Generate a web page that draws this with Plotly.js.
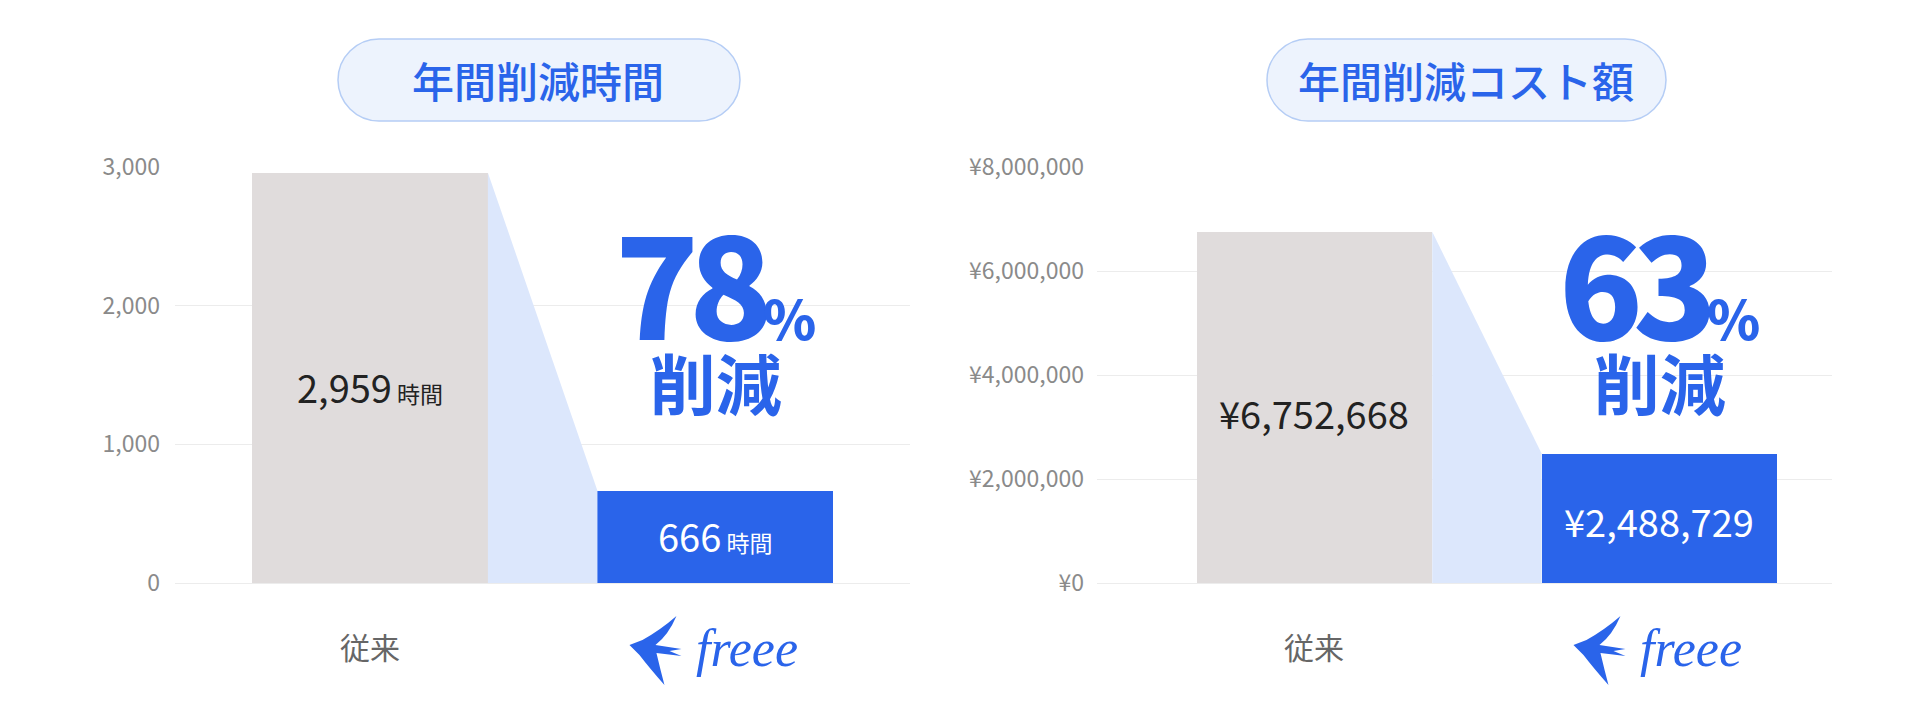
<!DOCTYPE html>
<html>
<head>
<meta charset="utf-8">
<script src="https://cdn.plot.ly/plotly-3.0.1.min.js"></script>
<style>
html,body{margin:0;padding:0;background:#ffffff;}
#chart{width:1916px;height:712px;}
</style>
</head>
<body>
<div id="chart"></div>
<script>
// ---------- data ----------
const categories = ['従来', 'freee'];
const hours = [2959, 666];
const costs = [6752668, 2488729];
const hourTicks = [0, 1000, 2000, 3000];
const costTicks = [0, 2000000, 4000000, 6000000, 8000000];
const reductionPct = [78, 63];
const panelTitles = ['年間削減時間', '年間削減コスト額'];
const hourUnit = '時間';
const yenPrefix = '¥';
const reductionWord = '削減';

// ---------- style ----------
const W = 1916, H = 712;
const BLUE = '#2a64ea';
const GREY_BAR = '#e0dcdc';
const FUNNEL = '#dce7fc';
const FONT = '"Noto Sans CJK JP", "Noto Sans", sans-serif';
const BW = 0.683;

const px = x => x / W;
const py = y => 1 - y / H;

function fmt(n) { return n.toLocaleString('en-US'); }

function pillPath(x0, x1, y0, y1) {
  const r = (y1 - y0) / 2, k = 0.5523 * r, ym = (y0 + y1) / 2;
  const P = (x, y) => px(x).toFixed(5) + ',' + py(y).toFixed(5);
  return 'M' + P(x0 + r, y0) + ' L' + P(x1 - r, y0) +
    ' C' + P(x1 - r + k, y0) + ' ' + P(x1, ym - k) + ' ' + P(x1, ym) +
    ' C' + P(x1, ym + k) + ' ' + P(x1 - r + k, y1) + ' ' + P(x1 - r, y1) +
    ' L' + P(x0 + r, y1) +
    ' C' + P(x0 + r - k, y1) + ' ' + P(x0, ym + k) + ' ' + P(x0, ym) +
    ' C' + P(x0, ym - k) + ' ' + P(x0 + r - k, y0) + ' ' + P(x0 + r, y0) + ' Z';
}

// swallow icon, pixel offsets relative to anchor (screen y down, converted to up)
const birdPts = [
  ['M', -86, -5], ['L', -73, -10], ['Q', -55, -20, -39, -34], ['Q', -47, -15, -60, -5],
  ['L', -34, -1], ['L', -46, 1], ['L', -34, 6], ['L', -59, 3],
  ['Q', -55, 20, -51, 35], ['Q', -66, 18, -76, 5], ['Z']
];
function birdPath() {
  return birdPts.map(p => {
    if (p[0] === 'Z') return 'Z';
    let s = p[0];
    for (let i = 1; i < p.length; i += 2) s += (i > 1 ? ' ' : '') + p[i] + ',' + (-p[i + 1]);
    return s;
  }).join(' ');
}

const panels = [
  { xa: 'x', ya: 'y', vals: hours, label: v => fmt(v) + '<span style="font-size:23px"> ' + hourUnit + '</span>' },
  { xa: 'x2', ya: 'y2', vals: costs, label: v => yenPrefix + fmt(v) }
];

const traces = [];
const annotations = [];
const shapes = [];

panels.forEach((p, i) => {
  const v = p.vals;
  // funnel connector between bars
  traces.push({
    type: 'scatter', mode: 'lines', xaxis: p.xa, yaxis: p.ya,
    x: [BW / 2, 1 - BW / 2, 1 - BW / 2, BW / 2],
    y: [v[0], v[1], 0, 0],
    fill: 'toself', fillcolor: FUNNEL, line: { width: 0 },
    hoverinfo: 'skip', showlegend: false
  });
  traces.push({
    type: 'bar', xaxis: p.xa, yaxis: p.ya,
    x: [0, 1], y: v, width: BW,
    marker: { color: [GREY_BAR, BLUE], line: { width: 0 } },
    hoverinfo: 'skip', showlegend: false
  });

  const cx = i === 0 ? 538 : 1466;
  const pill = i === 0 ? [338, 740] : [1267, 1666];
  shapes.push({
    type: 'path', xref: 'paper', yref: 'paper',
    path: pillPath(pill[0], pill[1], 39, 121),
    fillcolor: '#edf3fd', line: { color: '#b5cdf5', width: 1.5 }, layer: 'below'
  });
  annotations.push({
    xref: 'paper', yref: 'paper', x: px(cx), y: py(79), xanchor: 'center', yanchor: 'middle',
    text: panelTitles[i], showarrow: false,
    font: { family: FONT, size: 42, color: BLUE, weight: 500 }
  });

  // bar value labels
  const labelY0 = i === 0 ? 386 : 412;
  const labelY1 = i === 0 ? 535 : 520;
  annotations.push({
    xref: p.xa, yref: 'paper', x: 0, y: py(labelY0), xanchor: 'center', yanchor: 'middle',
    text: p.label(v[0]), showarrow: false,
    font: { family: FONT, size: 38, color: '#222222' }
  });
  annotations.push({
    xref: p.xa, yref: 'paper', x: 1, y: py(labelY1), xanchor: 'center', yanchor: 'middle',
    text: p.label(v[1]), showarrow: false,
    font: { family: FONT, size: 38, color: '#ffffff' }
  });

  // big reduction text (two lines in one text block)
  annotations.push({
    xref: p.xa, yref: 'paper', x: 1, y: py(178), xanchor: 'center', yanchor: 'top',
    align: 'center',
    text: '<span style="font-size:138px;font-weight:900;letter-spacing:-10px">' + reductionPct[i] +
      '</span><span style="font-size:54px;font-weight:900">%</span><br>' +
      '<span style="font-size:66px">' + reductionWord + '</span>',
    showarrow: false,
    font: { family: FONT, size: 54, color: BLUE, weight: 700 }
  });

  // category labels
  annotations.push({
    xref: p.xa, yref: 'paper', x: 0, y: py(646), xanchor: 'center', yanchor: 'middle',
    text: categories[0], showarrow: false,
    font: { family: FONT, size: 30, color: '#666666' }
  });
  annotations.push({
    xref: p.xa, yref: 'paper', x: 1, y: py(648), xanchor: 'center', yanchor: 'middle', xshift: 32,
    text: '<i>' + categories[1] + '</i>', showarrow: false,
    font: { family: '"Liberation Serif", serif', size: 52, color: BLUE }
  });
  shapes.push({
    type: 'path', xref: p.xa, yref: 'paper', xsizemode: 'pixel', ysizemode: 'pixel',
    xanchor: 1, yanchor: py(650), path: birdPath(),
    fillcolor: BLUE, line: { width: 0 }
  });
});

const yCommon = {
  showgrid: true, gridcolor: '#ececec', gridwidth: 1,
  zeroline: true, zerolinecolor: '#ececec', zerolinewidth: 1,
  showline: false, ticks: '', ticklabelstandoff: 14,
  tickfont: { family: FONT, size: 23, color: '#8a8a8a' },
  domain: [py(583), py(167)], fixedrange: true
};
const xCommon = {
  type: 'linear', showgrid: false, zeroline: false, showline: false,
  showticklabels: false, ticks: '', fixedrange: true
};

const layout = {
  width: W, height: H,
  margin: { l: 0, r: 0, t: 0, b: 0 },
  paper_bgcolor: '#ffffff', plot_bgcolor: 'rgba(0,0,0,0)',
  showlegend: false,
  xaxis: Object.assign({}, xCommon, { domain: [px(175), px(910)], range: [-0.564, 1.563], anchor: 'y' }),
  yaxis: Object.assign({}, yCommon, { range: [0, 3000], tickvals: hourTicks, ticktext: hourTicks.map(fmt), anchor: 'x' }),
  xaxis2: Object.assign({}, xCommon, { domain: [px(1097), px(1832)], range: [-0.630, 1.500], anchor: 'y2' }),
  yaxis2: Object.assign({}, yCommon, { range: [0, 8000000], tickvals: costTicks, ticktext: costTicks.map(v => yenPrefix + fmt(v)), anchor: 'x2', ticklabelstandoff: 12 }),
  annotations: annotations,
  shapes: shapes,
  bargap: 0
};

Plotly.newPlot('chart', traces, layout, { displayModeBar: false, staticPlot: true });
</script>
</body>
</html>
